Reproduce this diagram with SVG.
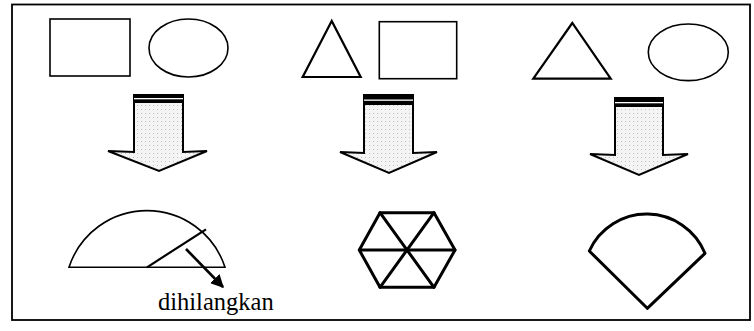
<svg xmlns="http://www.w3.org/2000/svg" width="754" height="331" viewBox="0 0 754 331">
<style>
.s{fill:none;stroke:#000;stroke-width:1.6}
.t{fill:none;stroke:#000;stroke-width:2.2;stroke-linejoin:miter}
.b{fill:none;stroke:#000;stroke-width:3;stroke-linejoin:round;stroke-linecap:round}
.ar{fill:url(#dots);stroke:#000;stroke-width:2;stroke-linejoin:miter}
.bar{fill:#000}
.stripe{fill:#fff}
</style>
<defs>
<pattern id="dots" width="4" height="4" patternUnits="userSpaceOnUse">
<rect width="4" height="4" fill="#f4f4f4"/>
<rect x="1" y="1" width="1" height="1" fill="#c0c0c0"/>
</pattern>
<marker id="ah" viewBox="0 0 10 10" refX="9" refY="5" markerWidth="5" markerHeight="5" orient="auto" markerUnits="strokeWidth">
<path d="M0,0 L10,5 L0,10 Z" fill="#000"/>
</marker>
</defs>
<rect width="754" height="331" fill="#fff"/>
<rect x="12" y="4.5" width="738" height="315.5" fill="none" stroke="#000" stroke-width="1.8"/>

<g id="row1-rect"><rect class="s" x="50" y="19" width="80" height="57"/></g>
<g id="row1-ellipse"><ellipse class="s" cx="188.5" cy="48" rx="39.5" ry="29"/></g>
<g id="row2-triangle"><polygon class="t" points="331.7,21 302.7,77 360.7,77"/></g>
<g id="row2-rect"><rect class="s" x="379.3" y="21.7" width="77.4" height="57"/></g>
<g id="row3-triangle"><polygon class="t" points="572.3,23 533.3,78.7 610.7,78.7"/></g>
<g id="row3-ellipse"><ellipse class="s" cx="688.3" cy="52.3" rx="40" ry="28.3"/></g>

<g id="connectors">
<g id="arrow1">
<path class="ar" d="M134,102 L134,152 L108,151 L159,171 L207,151 L183,152 L183,102 Z"/>
<rect class="bar" x="133" y="94" width="51" height="8"/>
<rect class="stripe" x="134" y="98" width="49" height="1.3"/>
</g>
<g id="arrow2">
<path class="ar" d="M364,104 L364,153 L340,152 L389,173 L437,152 L413,153 L413,104 Z"/>
<rect class="bar" x="363" y="94" width="51" height="10"/>
<rect class="stripe" x="364" y="99.5" width="49" height="1.3"/>
</g>
<g id="arrow3">
<path class="ar" d="M615,106 L615,155 L590,154 L639,175 L688,154 L663,155 L663,106 Z"/>
<rect class="bar" x="614" y="97" width="50" height="9"/>
<rect class="stripe" x="615" y="102" width="48" height="1.3"/>
</g>
<line id="pointer" x1="186" y1="249" x2="223" y2="287" stroke="#000" stroke-width="2.6" marker-end="url(#ah)"/>
</g>

<g id="segment">
<path class="s" d="M69,267.3 A82,82 0 0 1 225,267.3 Z" stroke-width="1.8"/>
<line x1="147" y1="267.3" x2="206" y2="229.3" stroke="#000" stroke-width="2.2"/>
</g>
<g id="label"><text x="158" y="310" font-family="'Liberation Serif', 'Times New Roman', serif" font-size="24.5" fill="#000">dihilangkan</text></g>

<g id="hexagon">
<polygon class="b" points="380,212.7 434,212.7 455,250 434,287.3 380,287.3 359.3,250"/>
<line class="b" x1="359.3" y1="250" x2="455" y2="250" stroke-width="2.2"/>
<line class="b" x1="380" y1="212.7" x2="434" y2="287.3"/>
<line class="b" x1="434" y1="212.7" x2="380" y2="287.3"/>
</g>

<g id="fan">
<path class="b" d="M589.3,251 A63,63 0 0 1 705,253.3 L647.3,308.3 Z"/>
</g>
</svg>
